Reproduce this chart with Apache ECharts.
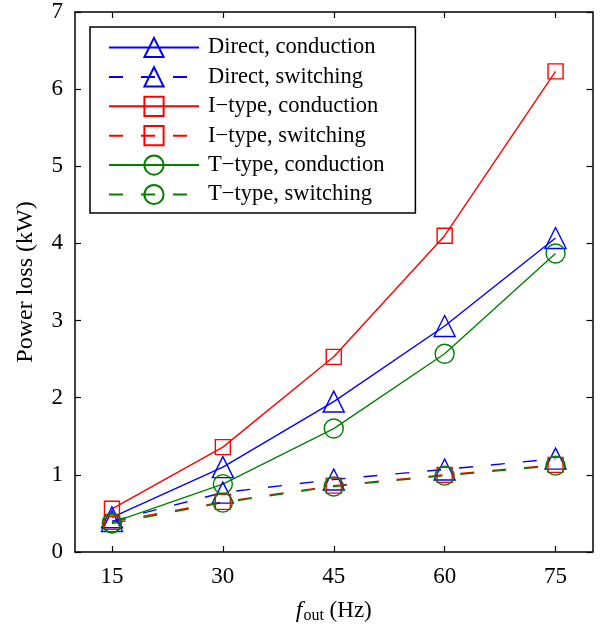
<!DOCTYPE html>
<html><head><meta charset="utf-8">
<script src="https://cdn.jsdelivr.net/npm/echarts@6/dist/echarts.min.js"></script>
<style>html,body{margin:0;padding:0;background:#fff}#c{width:603px;height:629px}</style>
</head><body><div id="c"></div>
<script>
const freqs = [15, 30, 45, 60, 75];
const xTicks = [15, 30, 45, 60, 75];
const directCond = [0.45, 1.10, 1.95, 2.93, 4.07];
const directSw = [0.40, 0.77, 0.94, 1.07, 1.21];
const itypeCond = [0.56, 1.36, 2.53, 4.10, 6.23];
const itypeSw = [0.39, 0.65, 0.86, 1.00, 1.13];
const ttypeCond = [0.38, 0.88, 1.60, 2.57, 3.87];
const ttypeSw = [0.37, 0.64, 0.85, 0.99, 1.12];
const names = ['Direct, conduction','Direct, switching','I\u2212type, conduction','I\u2212type, switching','T\u2212type, conduction','T\u2212type, switching'];

const FONT = 'Liberation Serif';
const BLUE = '#0000ff', RED = '#ff0000', GREEN = '#008000';
function pts(v){ return freqs.map((f,i)=>[f, v[i]]); }
function ser(name, data, color, symbol, size, dashed){
  return {
    name, type:'line', data: pts(data), symbol, symbolSize: size,
    showAllSymbol: true,
    lineStyle:{color, width:1.4, type: dashed ? [14,18] : 'solid'},
    itemStyle:{color:'rgba(255,255,255,0)', borderColor: color, borderWidth:1.4},
    emphasis:{disabled:true}, animation:false, z: 3
  };
}
const chart = echarts.init(document.getElementById('c'));
const axisCommon = {
  axisLine:{show:true, onZero:false, lineStyle:{color:'#000', width:1.5}},
  axisTick:{show:true, inside:true, length:6, lineStyle:{color:'#000', width:1.2}},
  splitLine:{show:false}
};
chart.setOption({
  animation:false,
  grid:{left:75, right:10.5, top:12, bottom:77, containLabel:false},
  legend:{
    orient:'vertical', left:90, top:27,
    padding:[9,31,7,18],
    itemWidth:90, itemHeight:24, itemGap:6.4,
    borderColor:'#000', borderWidth:1.5, backgroundColor:'#fff',
    textStyle:{fontFamily:FONT, fontSize:22.5, color:'#000', padding:[0,0,0,4]},
    data: names
  },
  xAxis:[
    Object.assign({type:'value', min:10, max:80, position:'bottom',
      axisLabel:{customValues:xTicks, fontFamily:FONT, fontSize:23, color:'#000', margin:13},
      name:'{f|f}{sub|out}{n| (Hz)}', nameLocation:'middle', nameGap:46,
      nameTextStyle:{fontFamily:FONT, fontSize:23, color:'#000',
        rich:{f:{fontFamily:FONT, fontStyle:'italic', fontSize:24, color:'#000'},
              sub:{fontFamily:FONT, fontSize:16, color:'#000', verticalAlign:'bottom', padding:[10,0,0,1]},
              n:{fontFamily:FONT, fontSize:23, color:'#000'}}}
    }, axisCommon, {axisTick:Object.assign({}, axisCommon.axisTick, {customValues:xTicks})}),
    Object.assign({type:'value', min:10, max:80, position:'top', axisLabel:{show:false}},
      axisCommon, {axisTick:Object.assign({}, axisCommon.axisTick, {customValues:xTicks})})
  ],
  yAxis:[
    Object.assign({type:'value', min:0, max:7, interval:1, position:'left',
      axisLabel:{fontFamily:FONT, fontSize:23, color:'#000', margin:12},
      name:'Power loss (kW)', nameLocation:'middle', nameGap:37,
      nameTextStyle:{fontFamily:FONT, fontSize:24, color:'#000'}
    }, axisCommon),
    Object.assign({type:'value', min:0, max:7, interval:1, position:'right', axisLabel:{show:false}}, axisCommon)
  ],
  series:[
    ser(names[0], directCond, BLUE, 'triangle', 21, false),
    ser(names[1], directSw, BLUE, 'triangle', 21, true),
    ser(names[2], itypeCond, RED, 'rect', 15, false),
    ser(names[3], itypeSw, RED, 'rect', 15, true),
    ser(names[4], ttypeCond, GREEN, 'circle', 19, false),
    ser(names[5], ttypeSw, GREEN, 'circle', 19, true)
  ]
});
</script></body></html>
